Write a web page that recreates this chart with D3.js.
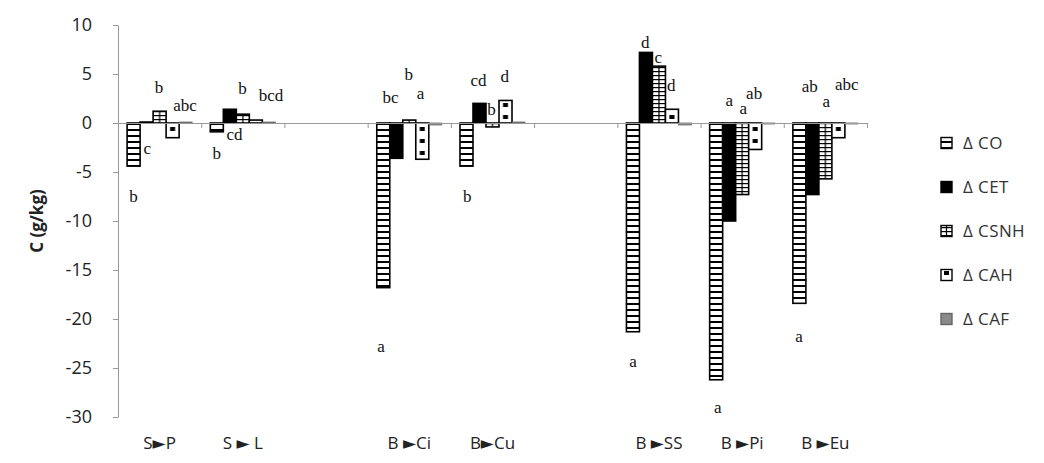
<!DOCTYPE html>
<html>
<head>
<meta charset="utf-8">
<script src="https://cdn.jsdelivr.net/npm/d3@7/dist/d3.min.js"></script>
<style>
  body { margin: 0; background: #fff; }
  text { font-family: "Open Sans", "DejaVu Sans", sans-serif; }
</style>
</head>
<body>
<svg id="chart" width="1044" height="463"></svg>
<script>
// categories along x ('' = empty slot)
const categories = ['S\u25BAP', 'S \u25BA L', '', 'B \u25BACi', 'B\u25BACu', '', 'B \u25BASS', 'B \u25BAPi', 'B \u25BAEu']
const series = ['CO', 'CET', 'CSNH', 'CAH', 'CAF']

// g/kg
const dCO   = [-4.4, -0.9, null, -16.8, -4.4, null, -21.3, -26.2, -18.4]
const dCET  = [ 0.1,  1.4, null,  -3.6,  2.0, null,   7.2, -10.0,  -7.3]
const dCSNH = [ 1.2,  0.9, null,   0.3, -0.4, null,   5.8,  -7.3,  -5.7]
const dCAH  = [-1.5,  0.3, null,  -3.7,  2.3, null,   1.4,  -2.7,  -1.5]
const dCAF  = [ 0.1,  0.1, null,  -0.2,  0.1, null,  -0.2,  -0.1,  -0.1]
const values = [dCO, dCET, dCSNH, dCAH, dCAF]

const yTicks = [-30, -25, -20, -15, -10, -5, 0, 5, 10]

// significance letters: [category, bar slot, text, value at letter]
const letters = [
  [0, 0, 'b', -7.45], [0, 1.05, 'c', -2.55], [0, 1.95, 'b', 3.67], [0, 3.95, 'abc', 1.84],
  [1, 0, 'b', -3.06], [1, 1.36, 'cd', -1.12], [1, 1.98, 'b', 3.52], [1, 4.17, 'bcd', 2.86],
  [3, -0.17, 'a', -22.76], [3, 0.56, 'bc', 2.6], [3, 1.95, 'b', 5.0], [3, 2.87, 'a', 3.06],
  [4, 0.05, 'b', -7.45], [4, 0.93, 'cd', 4.39], [4, 1.93, 'b', 1.43], [4, 2.95, 'd', 4.8],
  [6, 0, 'a', -24.3], [6, 0.94, 'd', 8.27], [6, 1.94, 'c', 6.73], [6, 2.94, 'd', 3.88],
  [7, 0.12, 'a', -28.98], [7, 1.0, 'a', 2.35], [7, 2.08, 'a', 1.53], [7, 2.92, 'ab', 3.06],
  [8, -0.02, 'a', -21.7], [8, 0.79, 'ab', 3.72], [8, 2.06, 'a', 2.24], [8, 3.65, 'abc', 3.93]
]

const svg = d3.select('#chart')
const defs = svg.append('defs')

const x = d3.scaleBand().domain(d3.range(categories.length)).range([118, 867])
const inner = d3.scaleBand().domain(d3.range(series.length)).range([0, x.bandwidth()])
  .paddingInner(0).paddingOuter(0.7)
const y = d3.scaleLinear().domain([-30, 10]).range([417, 25])
const bw = inner.bandwidth()

// one pattern per bar so the tiles line up with the bar edges
function makePattern(id, s, x0, w) {
  if (s == 0) {
    let p = defs.append('pattern').attr('id', id).attr('patternUnits', 'userSpaceOnUse')
      .attr('x', x0).attr('y', y(0)).attr('width', w).attr('height', 6)
    p.append('rect').attr('width', w).attr('height', 6).attr('fill', '#fff')
    p.append('rect').attr('width', w).attr('height', 2).attr('fill', '#000')
  } else if (s == 2) {
    let p = defs.append('pattern').attr('id', id).attr('patternUnits', 'userSpaceOnUse')
      .attr('x', x0).attr('y', y(0)).attr('width', w).attr('height', 4)
    p.append('rect').attr('width', w).attr('height', 4).attr('fill', '#fff')
    p.append('rect').attr('width', w).attr('height', 1.2).attr('fill', '#000')
    p.append('rect').attr('x', w / 2 - 0.6).attr('width', 1.2).attr('height', 4).attr('fill', '#000')
  } else if (s == 3) {
    let p = defs.append('pattern').attr('id', id).attr('patternUnits', 'userSpaceOnUse')
      .attr('x', x0).attr('y', y(0)).attr('width', w).attr('height', 12)
    p.append('rect').attr('width', w).attr('height', 12).attr('fill', '#fff')
    p.append('rect').attr('x', w / 2 - 2.5).attr('y', 4).attr('width', 5).attr('height', 4).attr('fill', '#000')
  }
}

function fillFor(s, id) {
  if (s == 1) return '#000'
  if (s == 4) return '#8a8a8a'
  return `url(#${id})`
}

// axes
const yAxis = svg.append('g')
  .attr('transform', 'translate(118,0)')
  .call(d3.axisLeft(y).tickValues(yTicks).tickSize(5).tickSizeOuter(0).tickFormat(d => String(d)))
yAxis.select('.domain').attr('stroke', '#999')
yAxis.selectAll('.tick line').attr('stroke', '#999')
yAxis.selectAll('.tick text')
  .attr('x', -26)
  .attr('fill', '#222')
  .style('font-size', '18px')

svg.append('text')
  .attr('transform', `translate(43,${(y(-30) + y(10)) / 2}) rotate(-90)`)
  .attr('text-anchor', 'middle')
  .style('font-size', '17px')
  .style('font-weight', 'bold')
  .attr('fill', '#222')
  .text('C (g/kg)')

// letters drawn first, bars sit on top of them
svg.append('g').selectAll('text')
  .data(letters)
  .join('text')
  .attr('x', d => x(d[0]) + inner(0) + inner.step() * (d[1] + 0.5))
  .attr('y', d => y(d[3]))
  .attr('dy', '0.35em')
  .attr('text-anchor', 'middle')
  .style('font-family', '"Liberation Serif", "DejaVu Serif", serif')
  .style('font-size', '17px')
  .attr('fill', '#111')
  .text(d => d[2])

let bars = []
values.forEach((arr, s) => arr.forEach((v, i) => {
  if (v == null) return
  bars.push({s: s, i: i, v: v, id: `p-${s}-${i}`})
}))
bars.forEach(d => makePattern(d.id, d.s, x(d.i) + inner(d.s), bw))

svg.append('g').selectAll('rect')
  .data(bars)
  .join('rect')
  .attr('x', d => x(d.i) + inner(d.s))
  .attr('y', d => y(Math.max(0, d.v)))
  .attr('width', bw)
  .attr('height', d => Math.abs(y(d.v) - y(0)))
  .attr('fill', d => fillFor(d.s, d.id))
  .attr('stroke', d => d.s == 4 ? '#666' : '#000')
  .attr('stroke-width', d => d.s == 4 ? 0.8 : 1.6)

// zero line with category ticks
const bounds = d3.scaleLinear().domain([0, categories.length]).range([118, 867])
const xAxis = svg.append('g')
  .attr('transform', `translate(0,${y(0)})`)
  .call(d3.axisBottom(bounds).tickValues(d3.range(1, categories.length + 1)).tickSize(5).tickSizeOuter(0).tickFormat(''))
xAxis.select('.domain').attr('stroke', '#999')
xAxis.selectAll('.tick line').attr('stroke', '#999')

svg.append('g').selectAll('text')
  .data(categories)
  .join('text')
  .attr('x', (d, i) => x(i) + x.bandwidth() / 2)
  .attr('y', 449)
  .attr('text-anchor', 'middle')
  .style('font-size', '17px')
  .attr('fill', '#222')
  .text(d => d)

// legend
const legend = svg.append('g')
series.forEach((name, s) => {
  let cy = 143 + 44 * s
  makePattern(`p-${s}-leg`, s, 941, 11)
  legend.append('rect')
    .attr('x', 941).attr('y', cy - 5.5)
    .attr('width', 11).attr('height', 11)
    .attr('fill', fillFor(s, `p-${s}-leg`))
    .attr('stroke', s == 4 ? '#666' : '#000')
    .attr('stroke-width', 1.4)
  legend.append('text')
    .attr('x', 963).attr('y', cy)
    .attr('dy', '0.35em')
    .style('font-size', '17px')
    .style('letter-spacing', '0.4px')
    .attr('fill', '#333')
    .text('\u0394 ' + name)
})
</script>
</body>
</html>
